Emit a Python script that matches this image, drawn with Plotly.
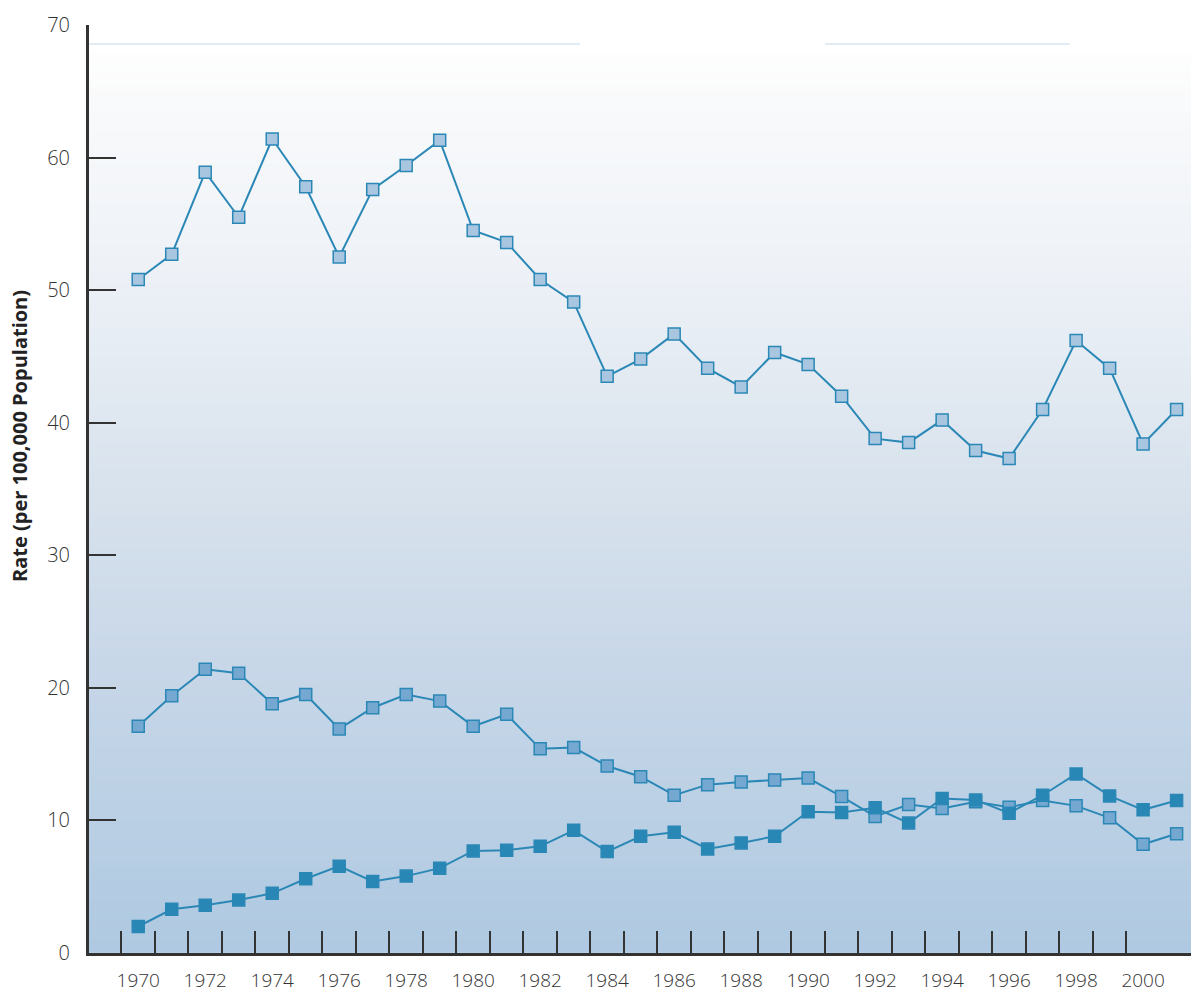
import numpy as np
import plotly.graph_objects as go

years = list(range(1970, 2002))

series_a = [50.8, 52.7, 58.9, 55.5, 61.4, 57.8, 52.5, 57.6, 59.4, 61.3,
            54.5, 53.6, 50.8, 49.1, 43.5, 44.8, 46.7, 44.1, 42.7, 45.3,
            44.4, 42.0, 38.8, 38.5, 40.2, 37.9, 37.3, 41.0, 46.2, 44.1,
            38.4, 41.0]
series_b = [17.1, 19.4, 21.4, 21.1, 18.8, 19.5, 16.9, 18.5, 19.5, 19.0,
            17.1, 18.0, 15.4, 15.5, 14.1, 13.3, 11.9, 12.7, 12.9, 13.05,
            13.2, 11.8, 10.3, 11.2, 10.9, 11.4, 11.0, 11.5, 11.1, 10.2,
            8.2, 9.0]
series_c = [2.0, 3.3, 3.6, 4.0, 4.5, 5.6, 6.55, 5.4, 5.8, 6.4,
            7.7, 7.75, 8.05, 9.25, 7.65, 8.8, 9.1, 7.85, 8.3, 8.8,
            10.65, 10.6, 10.95, 9.8, 11.65, 11.55, 10.55, 11.9, 13.5, 11.85,
            10.8, 11.5]

x_tick_labels = [str(y) for y in range(1970, 2001, 2)]
x_tick_vals = list(range(1970, 2001, 2))
x_minor_ticks = [y - 0.5 for y in range(1970, 2001)]
y_tick_vals = list(range(0, 71, 10))

line_color = "#2b88b6"
x_range = [1968.53, 2001.43]

fig = go.Figure()

# background gradient
grad_y = np.arange(0.25, 68.5, 0.5)
grad_z = [[v, v] for v in grad_y]
fig.add_trace(go.Heatmap(
    x=[1960, 2010], y=grad_y, z=grad_z, zmin=0, zmax=68.5,
    colorscale=[[0, "#aec9e1"], [0.32, "#c8d7e8"], [0.49, "#d6e1ec"],
                [0.76, "#eef2f7"], [0.94, "#f9fafb"], [1, "#ffffff"]],
    showscale=False, hoverinfo="skip"))

def add_series(vals, fill):
    fig.add_trace(go.Scatter(
        x=years, y=vals, mode="lines+markers",
        line=dict(color=line_color, width=2),
        marker=dict(symbol="square", size=12, color=fill,
                    line=dict(color=line_color, width=1.5)),
        showlegend=False))

add_series(series_a, "#a9c6e0")
add_series(series_b, "#74a8d0")
add_series(series_c, "#2887b5")

# invisible trace for label axis
fig.add_trace(go.Scatter(x=[1970], y=[0], xaxis="x2", mode="markers",
                         marker=dict(opacity=0), showlegend=False, hoverinfo="skip"))

tick_font = dict(family="Open Sans, Noto Sans, sans-serif", size=20,
                 color="#333333", weight=300)
x_tick_font = dict(family="Open Sans, Noto Sans, sans-serif", size=19,
                   color="#333333", weight=300)

fig.update_layout(
    width=1191, height=995,
    margin=dict(l=89, r=0, t=25, b=42),
    paper_bgcolor="white", plot_bgcolor="white",
    font=dict(family="Open Sans, Noto Sans, sans-serif", color="#333333"),
    xaxis=dict(range=x_range, showgrid=False, zeroline=False, automargin=False,
               tickvals=x_minor_ticks, ticks="inside", ticklen=22, tickwidth=1.5,
               tickcolor="#333333", showticklabels=False,
               showline=True, linecolor="#333333", linewidth=3),
    xaxis2=dict(range=x_range, overlaying="x", side="bottom", showgrid=False,
                zeroline=False, automargin=False, tickvals=x_tick_vals,
                ticktext=x_tick_labels, ticks="", showline=False,
                ticklabelstandoff=14, tickfont=x_tick_font),
    yaxis=dict(range=[0, 70], showgrid=False, zeroline=False, automargin=False,
               tickvals=y_tick_vals, ticks="inside", ticklen=27, tickwidth=1.5,
               tickcolor="#333333", tickfont=tick_font, ticklabelstandoff=12,
               showline=True, linecolor="#333333", linewidth=3),
    shapes=[
        dict(type="line", xref="paper", yref="y", x0=0, x1=0.4456, y0=68.57, y1=68.57,
             line=dict(color="#c4daeb", width=1)),
        dict(type="line", xref="paper", yref="y", x0=0.668, x1=0.890, y0=68.57, y1=68.57,
             line=dict(color="#c4daeb", width=1)),
    ],
    annotations=[dict(text="<b>Rate (per 100,000 Population)</b>", textangle=-90,
                      xref="paper", yref="y", x=-0.0626, y=39.0, showarrow=False,
                      xanchor="center", yanchor="middle",
                      font=dict(family="Open Sans, Noto Sans, sans-serif",
                                size=20, color="#222222"))],
)

fig.write_html("out.html",
               config={"displayModeBar": False},
               post_script="document.body.style.margin='0';"
                           "document.documentElement.style.overflow='hidden';")
